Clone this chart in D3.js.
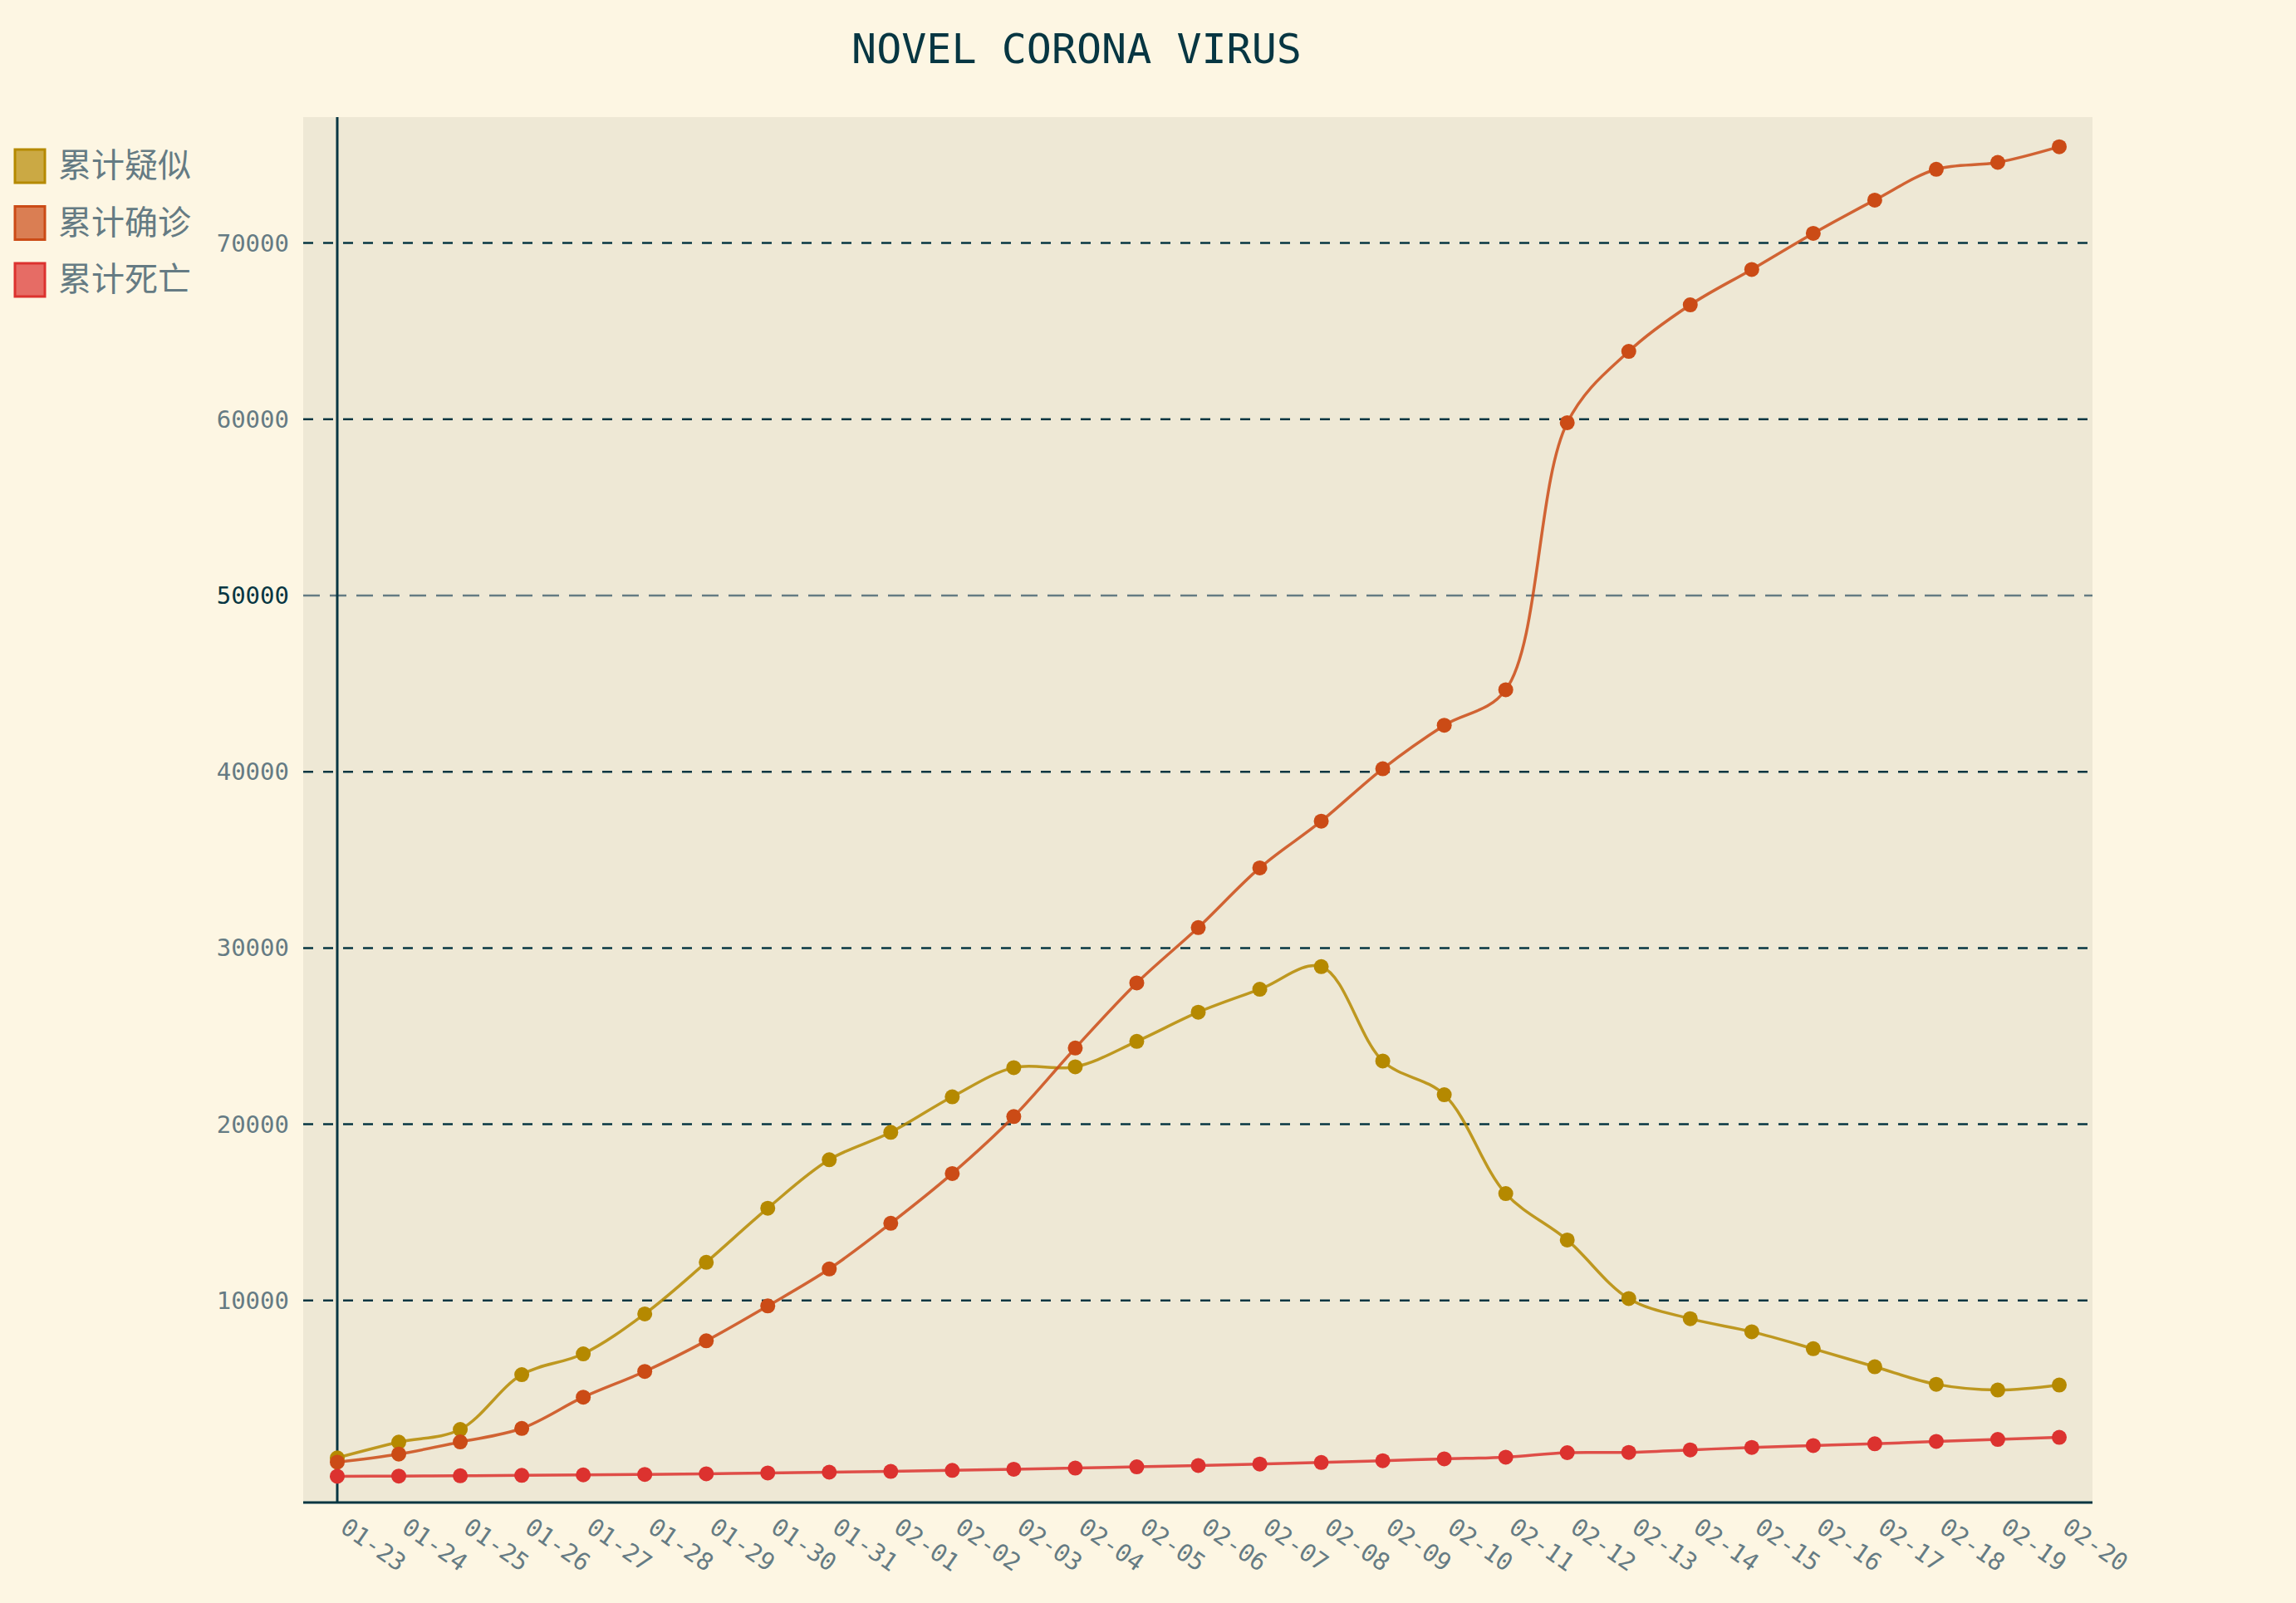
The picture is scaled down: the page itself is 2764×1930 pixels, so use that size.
<!DOCTYPE html>
<html><head><meta charset="utf-8">
<script src="https://cdn.jsdelivr.net/npm/d3@7"></script>
<style>body{margin:0;background:#fdf6e3}</style></head>
<body><svg id="c" width="2764" height="1930"></svg>
<script>
const dates=["01-23","01-24","01-25","01-26","01-27","01-28","01-29","01-30","01-31","02-01","02-02","02-03","02-04","02-05","02-06","02-07","02-08","02-09","02-10","02-11","02-12","02-13","02-14","02-15","02-16","02-17","02-18","02-19","02-20"];
const suspected=[1072,1965,2684,5794,6973,9239,12167,15238,17988,19544,21558,23214,23260,24702,26359,27657,28942,23589,21675,16067,13435,10109,8969,8228,7264,6242,5248,4922,5206];
const confirmed=[830,1287,1975,2744,4515,5974,7711,9692,11791,14380,17205,20438,24324,28018,31161,34546,37198,40171,42638,44653,59804,63851,66492,68500,70548,72436,74185,74576,75465];
const deaths=[25,41,56,80,106,132,170,213,259,304,361,425,490,563,636,722,811,908,1016,1113,1367,1380,1523,1665,1770,1868,2004,2118,2236];
const yTicks=[10000,20000,30000,40000,50000,60000,70000];
const seriesNames=["累计疑似","累计确诊","累计死亡"];
const colors=["#b58900","#cb4b16","#dc322f"];
const svg=d3.select("#c");
const L=365,R=2519,T=141,B=1809;
svg.append("rect").attr("x",L).attr("y",T).attr("width",R-L).attr("height",B-T).attr("fill","#eee8d5");
const x=d3.scalePoint().domain(dates).range([406,2479]);
const y=d3.scaleLinear().domain([0,70000]).range([1778,292.6]);
const mono="'DejaVu Sans Mono',monospace";
svg.append("text").attr("x",1296).attr("y",76).attr("text-anchor","middle").attr("font-family",mono).attr("font-size",50).attr("fill","#073642").text("NOVEL CORONA VIRUS");
yTicks.forEach(v=>{
  const major=v===50000;
  svg.append("line").attr("x1",L).attr("x2",R).attr("y1",y(v)).attr("y2",y(v))
    .attr("stroke",major?"#657b83":"#073642").attr("stroke-width",major?2.5:2.5).attr("stroke-dasharray",major?"20,12":"12,12");
  svg.append("text").attr("x",L-17).attr("y",y(v)+10).attr("text-anchor","end").attr("font-family",mono).attr("font-size",29)
    .attr("fill",major?"#073642":"#657b83").text(v);
});
svg.append("line").attr("x1",406).attr("x2",406).attr("y1",T).attr("y2",B).attr("stroke","#073642").attr("stroke-width",3);
svg.append("line").attr("x1",L).attr("x2",R).attr("y1",B).attr("y2",B).attr("stroke","#073642").attr("stroke-width",3);
dates.forEach(d=>{
  svg.append("text").attr("transform",`translate(${x(d)+2},${1843}) rotate(35)`).attr("font-family",mono).attr("font-size",29).attr("fill","#657b83").text(d);
});
[suspected,confirmed,deaths].forEach((s,i)=>{
  const line=d3.line().x((v,j)=>x(dates[j])).y(v=>y(v)).curve(d3.curveCatmullRom.alpha(0.5));
  svg.append("path").attr("d",line(s)).attr("fill","none").attr("stroke",colors[i]).attr("stroke-width",3.5).attr("opacity",0.85);
  svg.selectAll(null).data(s).enter().append("circle").attr("cx",(v,j)=>x(dates[j])).attr("cy",v=>y(v)).attr("r",9).attr("fill",colors[i]);
  const ly=198+i*68.5;
  svg.append("rect").attr("x",18).attr("y",ly-18).attr("width",36).attr("height",40).attr("fill",colors[i]).attr("fill-opacity",0.7).attr("stroke",colors[i]).attr("stroke-width",3);
  svg.append("text").attr("x",70).attr("y",ly+15).attr("font-family","'Noto Sans CJK SC',sans-serif").attr("font-size",40).attr("fill","#657b83").text(seriesNames[i]);
});
</script></body></html>
